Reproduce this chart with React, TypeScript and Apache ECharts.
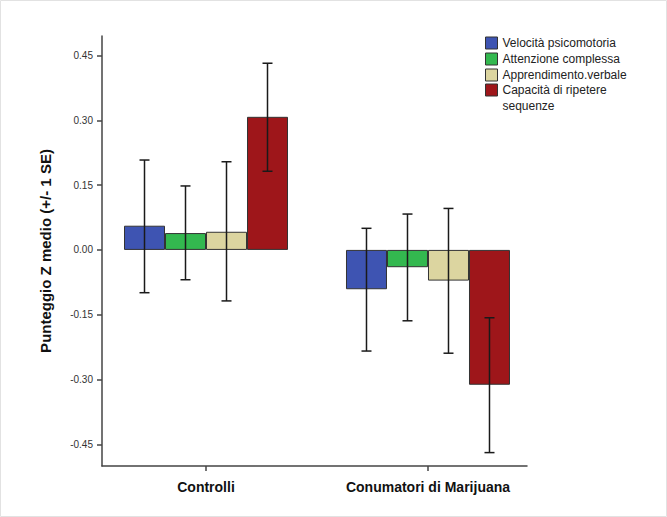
import React, { useEffect, useRef } from "react";
import * as echarts from "echarts";

const categories = ["Controlli", "Conumatori di Marijuana"];
const categoryPos = [1, 2];
const seriesNames = [
  "Velocità psicomotoria",
  "Attenzione complessa",
  "Apprendimento.verbale",
  "Capacità di ripetere sequenze",
];
const colors = ["#3e54b2", "#33b84f", "#dcd5a0", "#9e161a"];
const means = [
  [0.056, -0.091],
  [0.039, -0.040],
  [0.042, -0.071],
  [0.308, -0.312],
];
const errLow = [
  [-0.099, -0.234],
  [-0.069, -0.164],
  [-0.118, -0.239],
  [0.182, -0.469],
];
const errHigh = [
  [0.208, 0.05],
  [0.148, 0.083],
  [0.204, 0.096],
  [0.432, -0.157],
];
const yTicks = [-0.45, -0.3, -0.15, 0, 0.15, 0.3, 0.45];

const BAR_W = 41;

export default function App() {
  const ref = useRef<HTMLDivElement>(null);
  useEffect(() => {
    if (!ref.current) return;
    const chart = echarts.init(ref.current, null, { renderer: "svg" });
    const barSeries = seriesNames.map((name, i) => ({
      name,
      type: "bar",
      barWidth: BAR_W,
      barGap: "0%",
      data: categoryPos.map((x, j) => [x, means[i][j]]),
      itemStyle: { color: colors[i], borderColor: "#333", borderWidth: 1 },
      z: 2,
    }));
    const errSeries = seriesNames.map((name, i) => ({
      name: "err" + i,
      type: "custom",
      z: 5,
      data: categoryPos.map((x, j) => [x, errLow[i][j], errHigh[i][j]]),
      encode: { x: 0, y: [1, 2] },
      renderItem: (params: any, api: any) => {
        const x = api.value(0);
        const p1 = api.coord([x, api.value(1)]);
        const p2 = api.coord([x, api.value(2)]);
        const cx = p1[0] + (i - 1.5) * BAR_W;
        const style = { stroke: "#1a1a1a", lineWidth: 1.5 };
        return {
          type: "group",
          children: [
            { type: "line", shape: { x1: cx, y1: p1[1], x2: cx, y2: p2[1] }, style },
            { type: "line", shape: { x1: cx - 5, y1: p1[1], x2: cx + 5, y2: p1[1] }, style },
            { type: "line", shape: { x1: cx - 5, y1: p2[1], x2: cx + 5, y2: p2[1] }, style },
          ],
        };
      },
    }));
    const legendBase = {
      orient: "vertical",
      left: 485,
      padding: 0,
      itemWidth: 12,
      itemHeight: 12,
      itemGap: 0,
      icon: "rect",
      itemStyle: { borderColor: "#333", borderWidth: 1 },
      textStyle: { fontSize: 12, color: "#222", lineHeight: 16 },
    };
    chart.setOption({
      animation: false,
      backgroundColor: "#ffffff",
      textStyle: { fontFamily: "Arial, 'Liberation Sans', sans-serif" },
      grid: { left: 102, right: 140, top: 36, bottom: 51, containLabel: false },
      legend: [
        {
          ...legendBase,
          top: 35,
          data: seriesNames.slice(0, 3),
        },
        {
          ...legendBase,
          top: 66,
          formatter: () => "\nCapacità di ripetere\nsequenze",
          data: [seriesNames[3]],
        },
      ],
      xAxis: {
        type: "value",
        min: 0.5315,
        max: 2.446,
        splitLine: { show: false },
        axisLine: { show: true, onZero: false, lineStyle: { color: "#444", width: 1.5 } },
        axisTick: {
          show: true,
          length: 5,
          customValues: categoryPos,
          lineStyle: { color: "#444", width: 1.5 },
        },
        axisLabel: {
          customValues: categoryPos,
          formatter: (v: number) => categories[Math.round(v) - 1] ?? "",
          fontSize: 14,
          fontWeight: "bold",
          color: "#111",
          margin: 14,
        },
      },
      yAxis: {
        type: "value",
        min: -0.5,
        max: 0.495,
        splitLine: { show: false },
        axisLine: { show: true, onZero: false, lineStyle: { color: "#444", width: 1.5 } },
        axisTick: {
          show: true,
          length: 5,
          customValues: yTicks,
          lineStyle: { color: "#444", width: 1.5 },
        },
        axisLabel: {
          customValues: yTicks,
          formatter: (v: number) => v.toFixed(2),
          fontSize: 10,
          color: "#333",
          margin: 9,
        },
        name: "Punteggio Z medio (+/- 1 SE)",
        nameLocation: "middle",
        nameGap: 49,
        nameRotate: 90,
        nameTextStyle: { fontSize: 15, fontWeight: "bold", color: "#111" },
      },
      graphic: [
        {
          type: "rect",
          shape: { x: 0.5, y: 0.5, width: 666, height: 516 },
          style: { fill: "none", stroke: "#e2e2e2", lineWidth: 1 },
          silent: true,
        },
      ],
      series: [...barSeries, ...errSeries],
    });
    return () => chart.dispose();
  }, []);
  return (
    <div
      ref={ref}
      style={{ position: "absolute", left: 0, top: 0, width: 667, height: 517, background: "#fff" }}
    />
  );
}
